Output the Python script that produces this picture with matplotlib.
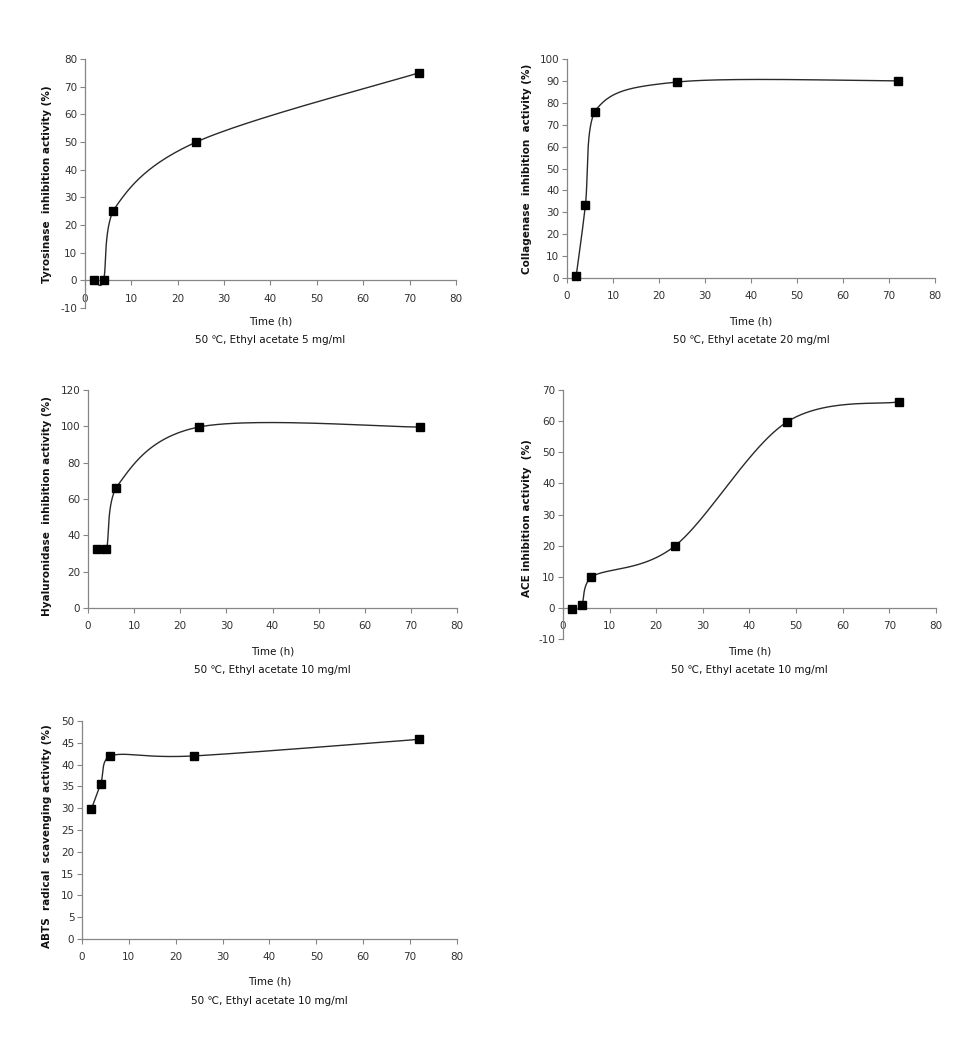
import numpy as np
import matplotlib
matplotlib.use("Agg")
import matplotlib.pyplot as plt

plt.rcParams['font.family'] = ['DejaVu Sans']
plt.rcParams['axes.unicode_minus'] = False

# ---- data ----
time_a = [2, 4, 6, 24, 72]
time_ace = [2, 4, 6, 24, 48, 72]
tyrosinase = [0, 0, 25, 50, 75]
collagenase = [1, 33.3, 76, 89.5, 90]
hyaluronidase = [32.5, 32.5, 66, 99.6, 99.6]
ace = [-0.3, 0.8, 9.9, 19.9, 59.7, 66.2]
abts = [29.8, 35.6, 42, 42, 45.8]

ylabels = ["Tyrosinase  inhibition activity (%)",
           "Collagenase  inhibition  activity (%)",
           "Hyaluronidase  inhibition activity (%)",
           "ACE inhibition activity  (%)",
           "ABTS  radical  scavenging activity (%)"]
captions = ["50 \u2103, Ethyl acetate 5 mg/ml",
            "50 \u2103, Ethyl acetate 20 mg/ml",
            "50 \u2103, Ethyl acetate 10 mg/ml",
            "50 \u2103, Ethyl acetate 10 mg/ml",
            "50 \u2103, Ethyl acetate 10 mg/ml"]
xticks = [0, 10, 20, 30, 40, 50, 60, 70, 80]

W, H = 978, 1042
fig = plt.figure(figsize=(W / 100, H / 100), dpi=100)

panels = [
    dict(x=time_a, y=tyrosinase, box=(85, 456, 59, 308), ylim=(-10, 80), step=10,
         ylab_x=47, ylab_y=184, xl_y=321, cap_y=340),
    dict(x=time_a, y=collagenase, box=(567, 935, 59, 278), ylim=(0, 100), step=10,
         ylab_x=527, ylab_y=169, xl_y=321, cap_y=340),
    dict(x=time_a, y=hyaluronidase, box=(88, 457, 390, 608), ylim=(0, 120), step=20,
         ylab_x=47, ylab_y=506, xl_y=651, cap_y=670),
    dict(x=time_ace, y=ace, box=(563, 936, 390, 639), ylim=(-10, 70), step=10,
         ylab_x=527, ylab_y=518, xl_y=651, cap_y=670),
    dict(x=time_a, y=abts, box=(82, 457, 721, 939), ylim=(0, 50), step=5,
         ylab_x=47, ylab_y=836, xl_y=982, cap_y=1001),
]


def smooth(xs, ys, sx, sy, n=50):
    """Bezier smoothing (similar to Excel smoothed lines), computed in pixel space."""
    P = np.column_stack([np.asarray(xs, float) * sx, np.asarray(ys, float) * sy])
    P = np.vstack([P[0], P, P[-1]])
    out = []
    t = np.linspace(0, 1, n)[:, None]
    for i in range(1, len(P) - 2):
        p0, p1, p2, p3 = P[i - 1], P[i], P[i + 1], P[i + 2]
        c1 = p1 + (p2 - p0) / 6.0
        c2 = p2 - (p3 - p1) / 6.0
        # keep control points within the segment's x-span (no backtracking)
        c1[0] = np.clip(c1[0], p1[0], p2[0])
        c2[0] = np.clip(c2[0], p1[0], p2[0])
        seg = ((1 - t) ** 3) * p1 + 3 * ((1 - t) ** 2) * t * c1 + 3 * (1 - t) * t ** 2 * c2 + t ** 3 * p2
        out.append(seg if i == 1 else seg[1:])
    out = np.vstack(out)
    return out[:, 0] / sx, out[:, 1] / sy


axis_col = '#868686'
tick_col = '#303030'
for i, p in enumerate(panels):
    l, r, t, b = p['box']
    ax = fig.add_axes([l / W, 1 - b / H, (r - l) / W, (b - t) / H])
    y0, y1 = p['ylim']
    ax.set_xlim(0, 80)
    ax.set_ylim(y0, y1)
    sx = (r - l) / 80.0
    sy = (b - t) / (y1 - y0)
    cx, cy = smooth(p['x'], p['y'], sx, sy)
    ax.plot(cx, cy, color='#2a2a2a', lw=1.0, zorder=2, clip_on=False)
    ax.plot(p['x'], p['y'], linestyle='none', marker='s', ms=5.6, color='black', zorder=3,
            clip_on=False)
    for s in ['top', 'right']:
        ax.spines[s].set_visible(False)
    ax.spines['bottom'].set_position(('data', 0))
    for s in ['left', 'bottom']:
        ax.spines[s].set_color(axis_col)
        ax.spines[s].set_linewidth(0.9)
    ax.set_xticks(xticks)
    ax.set_yticks(np.arange(y0, y1 + 0.001, p['step']))
    ax.tick_params(axis='both', direction='out', length=3.5, width=0.8, color=axis_col,
                   labelsize=7.5, labelcolor=tick_col)
    ax.tick_params(axis='x', pad=6)
    ax.tick_params(axis='y', pad=2)
    ax.patch.set_alpha(0)
    cxp = (l + r) / 2
    fig.text(cxp / W, 1 - p['xl_y'] / H, "Time (h)", ha='center', va='center', fontsize=7.5,
             color='#111111')
    fig.text(cxp / W, 1 - p['cap_y'] / H, captions[i], ha='center', va='center', fontsize=7.5,
             color='#111111')
    fig.text(p['ylab_x'] / W, 1 - p['ylab_y'] / H, ylabels[i], rotation=90, ha='center',
             va='center', fontsize=7.5, fontweight='bold', color='#111111')

fig.savefig("out.png", dpi=100)
